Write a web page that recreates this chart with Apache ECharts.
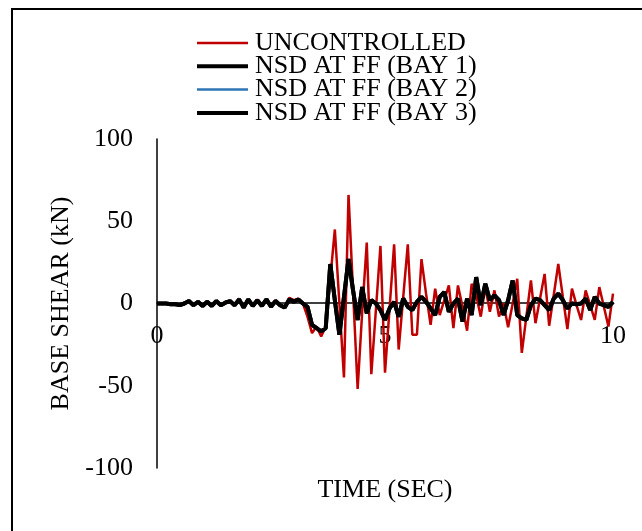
<!DOCTYPE html>
<html>
<head>
<meta charset="utf-8">
<script src="https://cdn.jsdelivr.net/npm/echarts@6/dist/echarts.min.js"></script>
<style>
  html, body { margin: 0; padding: 0; background: #fff; }
  #main { width: 642px; height: 531px; }
</style>
</head>
<body>
<div id="main"></div>
<script>
var time = [0, 0.1, 0.2, 0.3, 0.4, 0.5, 0.6, 0.7, 0.8, 0.9,
    1, 1.1, 1.2, 1.3, 1.4, 1.5, 1.6, 1.7, 1.8, 1.9,
    2, 2.1, 2.2, 2.3, 2.4, 2.5, 2.6, 2.7, 2.8, 2.9,
    3, 3.1, 3.2, 3.3, 3.4, 3.5, 3.6, 3.7, 3.8, 3.9,
    4, 4.1, 4.2, 4.3, 4.4, 4.5, 4.6, 4.7, 4.8, 4.9,
    5, 5.1, 5.2, 5.3, 5.4, 5.5, 5.6, 5.7, 5.8, 5.9,
    6, 6.1, 6.2, 6.3, 6.4, 6.5, 6.6, 6.7, 6.8, 6.9,
    7, 7.1, 7.2, 7.3, 7.4, 7.5, 7.6, 7.7, 7.8, 7.9,
    8, 8.1, 8.2, 8.3, 8.4, 8.5, 8.6, 8.7, 8.8, 8.9,
    9, 9.1, 9.2, 9.3, 9.4, 9.5, 9.6, 9.7, 9.8, 9.9, 10];

var uncontrolled = [0, 0, 0, -0.5, 0, -1, 0.5, 1.5, -1, 1,
    -1.5, 1, -1.5, 1.5, -1, 1, 1.5, -1, 3, -2.5,
    2.5, -1.5, 2.5, -1.5, 2.5, -2, 2, -1, -2.5, 3.5,
    2, 3, 0, -8, -18, -14, -20, -14, 15, 45,
    0, -45, 66, 7, -52, -5, 37, -43, -4, 35,
    -42, -3, 36, -28, 4, 36, -19, -19, 27, 6,
    -13, 9, -7, 2, 11, -15, 11, -2, -16.5, 12,
    5, -8, 10, -5, 8, -8, 0, -14.5, 0, 15,
    -30, -8, 14, -12, 3, 18, -13.5, 5, 24, 4,
    -15.5, 9, -1, -10, 8, -1, -10, 10, -2, -14, 6];

var bay1 = [0, 0, 0, -0.5, -0.5, -1, 0, 1.5, -1, 1,
    -1.5, 1, -1.5, 1.5, -1, 0.5, 1.5, -1, 2.5, -2.5,
    2.5, -1.5, 2, -1.5, 2.5, -2, 1.5, -1, -2.5, 2.5,
    1, 2.5, 0, -2, -13, -15, -17, -15, 24, 2,
    -19, 4, 27, 8, -10, 10, -6, 2, 0, -4,
    -10, -3, 1, -8, 3, -2, -4, 1, 4, 1,
    -3, -7, 4, 7, -5, 0, 3, -11, 3, -7,
    16, -1, 12, 2, 5, 2, -7, 2, 14, -7,
    -9, -10, -1, 3, 2, -1, -4, 3, 6, 2,
    -3, 0, -0.5, 0, 3, -4, 4, 0, -1, -2, 1];

// the three NSD curves lie on top of each other in the figure
var bay2 = bay1.slice();
var bay3 = bay1.slice();

var yTicks = [-100, -50, 0, 50, 100];
var xTicks = [0, 5, 10];

function pairs(vals) {
    var out = [];
    for (var i = 0; i < time.length; i++) {
        out.push([time[i], vals[i]]);
    }
    return out;
}

var font = 'Liberation Serif';
var thinIcon = 'path://M0,0L51,0L51,2.5L0,2.5Z';
var thickIcon = 'path://M0,0L51,0L51,4L0,4Z';
var myChart = echarts.init(document.getElementById('main'));

var option = {
    animation: false,
    backgroundColor: '#fff',
    graphic: [{
        type: 'rect',
        shape: { x: 12, y: 9, width: 700, height: 600 },
        style: { fill: 'none', stroke: '#000', lineWidth: 2 }
    }],
    legend: {
        orient: 'vertical',
        left: 197,
        top: 30,
        padding: 0,
        itemWidth: 51,
        itemHeight: 4,
        itemGap: -2.7,
        textStyle: { fontFamily: font, fontSize: 26, color: '#000', padding: [0, 0, 0, 2] },
        data: [
            { name: 'UNCONTROLLED', icon: thinIcon },
            { name: 'NSD AT FF (BAY 1)', icon: thickIcon },
            { name: 'NSD AT FF (BAY 2)', icon: thinIcon },
            { name: 'NSD AT FF (BAY 3)', icon: thickIcon }
        ]
    },
    grid: { left: 157, right: 29, top: 139, bottom: 63, outerBoundsMode: 'none', containLabel: false },
    xAxis: {
        type: 'value',
        min: xTicks[0],
        max: xTicks[xTicks.length - 1],
        interval: 5,
        // axis sits on y = 0, in the middle of the plot
        offset: -165,
        name: 'TIME (SEC)',
        nameLocation: 'middle',
        nameGap: 174,
        nameTextStyle: { fontFamily: font, fontSize: 26, color: '#000' },
        axisLine: { onZero: false, lineStyle: { color: '#000', width: 1.5 } },
        axisTick: { show: false },
        splitLine: { show: false },
        axisLabel: { fontFamily: font, fontSize: 26, color: '#000', margin: 20 }
    },
    yAxis: {
        type: 'value',
        min: yTicks[0],
        max: yTicks[yTicks.length - 1],
        interval: 50,
        name: 'BASE SHEAR (kN)',
        nameLocation: 'middle',
        nameGap: 81,
        nameTextStyle: { fontFamily: font, fontSize: 26, color: '#000' },
        axisLine: { show: true, lineStyle: { color: '#000', width: 1.5 } },
        axisTick: { show: false },
        splitLine: { show: false },
        axisLabel: { fontFamily: font, fontSize: 26, color: '#000', margin: 24 }
    },
    series: [
        {
            name: 'UNCONTROLLED', type: 'line', symbol: 'none',
            lineStyle: { color: '#C00000', width: 2.5 }, itemStyle: { color: '#C00000' },
            data: pairs(uncontrolled)
        },
        {
            name: 'NSD AT FF (BAY 1)', type: 'line', symbol: 'none',
            lineStyle: { color: '#000', width: 4 }, itemStyle: { color: '#000' },
            data: pairs(bay1)
        },
        {
            name: 'NSD AT FF (BAY 2)', type: 'line', symbol: 'none',
            lineStyle: { color: '#2E75B6', width: 2.5 }, itemStyle: { color: '#2E75B6' },
            data: pairs(bay2)
        },
        {
            name: 'NSD AT FF (BAY 3)', type: 'line', symbol: 'none',
            lineStyle: { color: '#000', width: 4 }, itemStyle: { color: '#000' },
            data: pairs(bay3)
        }
    ]
};
myChart.setOption(option);
</script>
</body>
</html>
